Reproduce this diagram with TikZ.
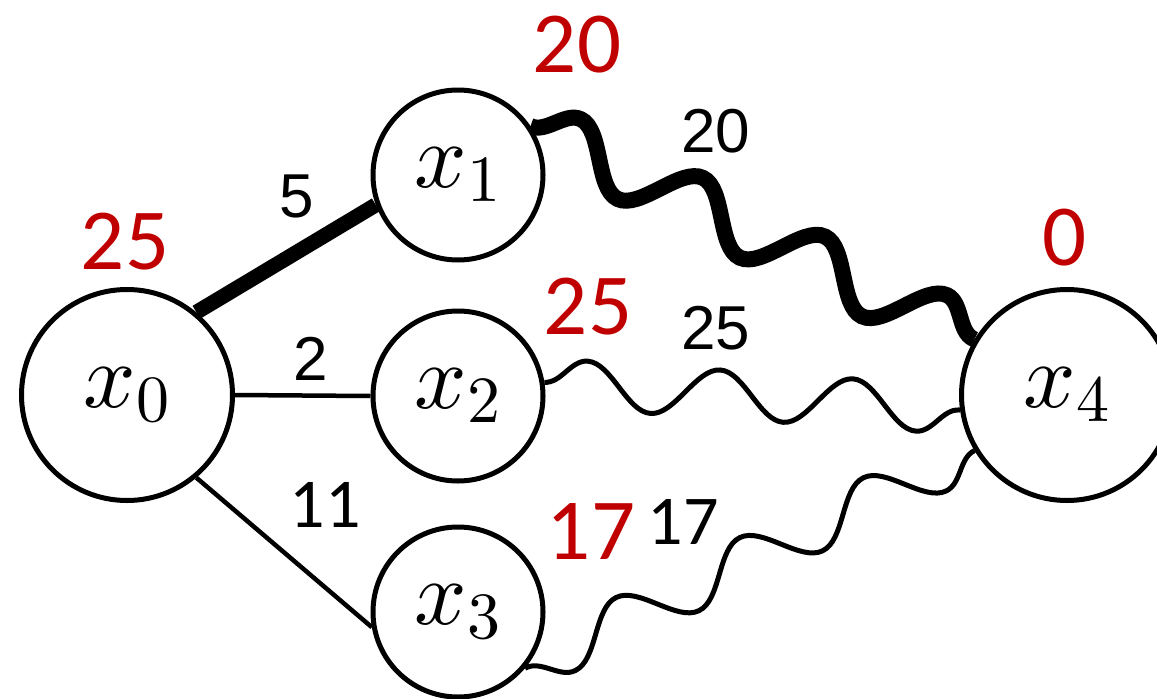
\RequirePackage{fix-cm}
\documentclass[tikz,border=0pt]{standalone}
\usepackage{fontspec}
\newfontfamily\carl{Carlito}
\newfontfamily\libsans{Liberation Sans}
\DeclareFontShape{OML}{cmm}{m}{it}{<->cmmi10}{}
\DeclareFontShape{OT1}{cmr}{m}{n}{<->cmr10}{}
\DeclareMathSizes{92}{92}{66}{46}
\usetikzlibrary{decorations.pathmorphing,backgrounds}
\definecolor{wred}{RGB}{192,0,0}
\begin{document}
\begin{tikzpicture}[x=1pt,y=1pt,
  vert/.style={circle,draw,line width=5pt,fill=white,inner sep=0pt,font=\fontsize{92}{100}\selectfont},
  bigv/.style={vert,minimum size=211pt},
  smallv/.style={vert,minimum size=170pt},
  cost/.style={text=wred,font=\carl\fontsize{87}{100}\selectfont,inner sep=0pt},
  wt/.style={font=\libsans\fontsize{62}{70}\selectfont,inner sep=0pt},
  wtc/.style={font=\carl\fontsize{70}{80}\selectfont,inner sep=0pt},
  thinedge/.style={line width=4.5pt},
  heavyedge/.style={line width=15pt},
  wave/.style={decorate,decoration={snake,segment length=#1,amplitude=24pt},line width=5pt},
  heavywave/.style={decorate,decoration={snake,segment length=#1,amplitude=28pt},line width=16pt},
]
\useasboundingbox (0,0) rectangle (1157,-699);
\node[bigv] (x0) at (127,-395) {$x_0$};
\node[smallv] (x1) at (458,-175) {$x_1$};
\node[smallv] (x2) at (458,-396) {$x_2$};
\node[smallv] (x3) at (458,-612) {$x_3$};
\node[bigv] (x4) at (1067,-395) {$x_4$};
\begin{scope}[on background layer]
\draw[heavyedge] (x0.50) -- (x1.200);
\draw[thinedge] (x0.0) -- (x2.180);
\draw[thinedge] (x0.-50) -- (x3.190);
\draw[heavywave=135.5pt] (x1.34) -- (x4.149);
\draw[wave=133pt] (x2.9) -- (x4.188);
\draw[wave=137.4pt] (x4.211) -- (x3.-40);
\end{scope}
\node[cost] (c0) at (125,-242) {25};
\node[cost] (c1) at (577,-45) {20};
\node[cost] (c2) at (588,-307) {25};
\node[cost] (c3) at (591,-531) {17};
\node[cost] (c4) at (1065,-238) {0};
\node[wt] (w01) at (297,-196) {5};
\node[wt] (w02) at (311,-359) {2};
\node[wtc] (w03) at (325,-505) {11};
\node[wt] (w14) at (716,-131) {20};
\node[wt] (w24) at (716,-328) {25};
\node[wtc] (w34) at (683,-522) {17};
\end{tikzpicture}
\end{document}
